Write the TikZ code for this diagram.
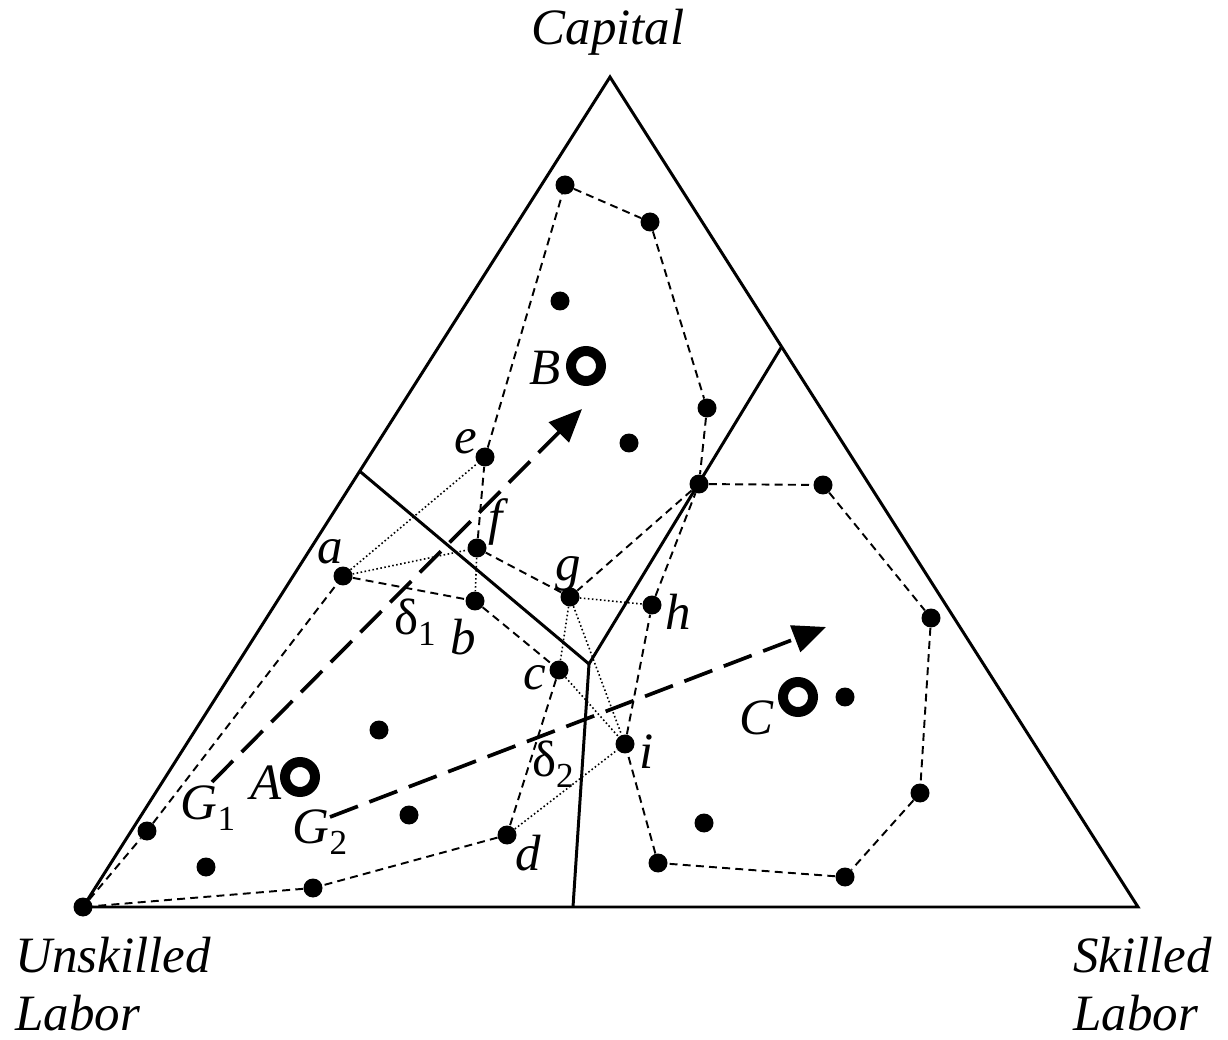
\documentclass[tikz,border=0pt]{standalone}
\usepackage{fontspec}
\setmainfont{Liberation Serif}
\usetikzlibrary{arrows.meta}

\newcommand\lowsub[1]{\raisebox{-0.22em}{\fontsize{20}{24}\selectfont\upshape #1}}

\begin{document}
\begin{tikzpicture}[x=0.02cm,y=0.02cm,
		blob/.style={circle,fill=black,minimum size=0.38cm},
		ring/.style={circle,draw=black,line width=0.2cm,minimum size=0.6cm},
		lbl/.style={font=\fontsize{29}{34}\selectfont\itshape},
		hull/.style={line width=1.1pt,dash pattern=on 4.5pt off 3pt},
		link/.style={line width=0.9pt,dash pattern=on 0.9pt off 1.4pt},
		edgeline/.style={line width=1.7pt,line join=miter},
		drift/.style={line width=2.1pt,dash pattern=on 17pt off 7pt,-{Triangle[length=0.66cm,width=0.56cm]}}]
		\tikzstyle{every node}+=[inner sep=0pt]
		\useasboundingbox (0,0) rectangle (1228,-1040);
		% simplex corners and region borders
		\coordinate (T) at (610,-77);
		\coordinate (LL) at (83,-907);
		\coordinate (RR) at (1138,-907);
		\coordinate (p1) at (359.5,-471);
		\coordinate (J) at (589,-664);
		\coordinate (p2) at (781.5,-347);
		\coordinate (p3) at (573,-907);
		\draw [edgeline] (T) -- (LL) -- (RR) -- cycle;
		\draw [edgeline] (p1) -- (J) -- (p2);
		\draw [edgeline] (J) -- (p3);
		% firms
		\node [blob] (u0) at (83,-907) {};
		\node [blob] (u1) at (147,-831) {};
		\node [blob] (u2) at (206,-867) {};
		\node [blob] (u3) at (313,-888) {};
		\node [blob] (u4) at (379,-730) {};
		\node [blob] (u5) at (409,-815) {};
		\node [blob] (a) at (343,-576) {};
		\node [blob] (b) at (475,-601) {};
		\node [blob] (c) at (559,-670) {};
		\node [blob] (d) at (507,-835) {};
		\node [blob] (e) at (485,-457) {};
		\node [blob] (f) at (477,-548) {};
		\node [blob] (g) at (570,-597) {};
		\node [blob] (h) at (652,-605) {};
		\node [blob] (i) at (625,-744) {};
		\node [blob] (hub) at (699,-484) {};
		\node [blob] (k1) at (565,-185) {};
		\node [blob] (k2) at (650,-222) {};
		\node [blob] (k3) at (560,-301) {};
		\node [blob] (k4) at (707,-408) {};
		\node [blob] (k5) at (629,-443) {};
		\node [blob] (s1) at (823,-485) {};
		\node [blob] (s2) at (931,-618) {};
		\node [blob] (s3) at (920,-793) {};
		\node [blob] (s4) at (845,-877) {};
		\node [blob] (s5) at (658,-863) {};
		\node [blob] (s6) at (704,-823) {};
		\node [blob] (s7) at (845,-697) {};
		% group centres
		\node [ring] (cA) at (300,-777) {};
		\node [ring] (cB) at (586,-366) {};
		\node [ring] (cC) at (798,-697) {};
		% hulls
		\draw [hull] (u0) -- (u1) -- (a) -- (b) -- (c) -- (d) -- (u3) -- (u0);
		\draw [hull] (e) -- (k1) -- (k2) -- (k4) -- (hub) -- (g) -- (f) -- (e);
		\draw [hull] (hub) -- (s1) -- (s2) -- (s3) -- (s4) -- (s5) -- (i) -- (h) -- (hub);
		% distances
		\draw [link] (a) -- (e);
		\draw [link] (a) -- (f);
		\draw [link] (f) -- (b);
		\draw [link] (g) -- (h);
		\draw [link] (g) -- (c);
		\draw [link] (g) -- (i);
		\draw [link] (c) -- (i);
		\draw [link] (d) -- (i);
		% moves
		\coordinate (g1s) at (212,-782);
		\coordinate (g1e) at (582,-409);
		\coordinate (g2s) at (330,-817);
		\coordinate (g2e) at (826,-627);
		\draw [drift] (g1s) -- (g1e);
		\draw [drift] (g2s) -- (g2e);
		% labels
		\node [lbl,anchor=base] (tcap) at (608,-45) {Capital};
		\node [lbl,anchor=base west] (tun) at (15,-972) {Unskilled};
		\node [lbl,anchor=base west] (tul) at (15,-1030) {Labor};
		\node [lbl,anchor=base west] (tsk) at (1073,-972) {Skilled};
		\node [lbl,anchor=base west] (tsl) at (1073,-1030) {Labor};
		\node [lbl] (la) at (330,-552) {a};
		\node [lbl] (lb) at (463,-637) {b};
		\node [lbl] (lc) at (535,-678) {c};
		\node [lbl] (ld) at (528,-853) {d};
		\node [lbl] (le) at (466,-442) {e};
		\node [lbl] (lf) at (496,-522) {f};
		\node [lbl] (lg) at (568,-574) {g};
		\node [lbl] (lh) at (678,-612) {h};
		\node [lbl] (li) at (647,-752) {i};
		\node [lbl] (lA) at (266,-783) {A};
		\node [lbl] (lB) at (545,-368) {B};
		\node [lbl] (lC) at (756,-718) {C};
		\node [lbl] (lG1) at (208,-808) {G\lowsub{1}};
		\node [lbl] (lG2) at (320,-832) {G\lowsub{2}};
		\node [lbl] (ld1) at (415,-622) {\upshape δ\lowsub{1}};
		\node [lbl] (ld2) at (553,-764) {\upshape δ\lowsub{2}};
	\end{tikzpicture}
\end{document}
